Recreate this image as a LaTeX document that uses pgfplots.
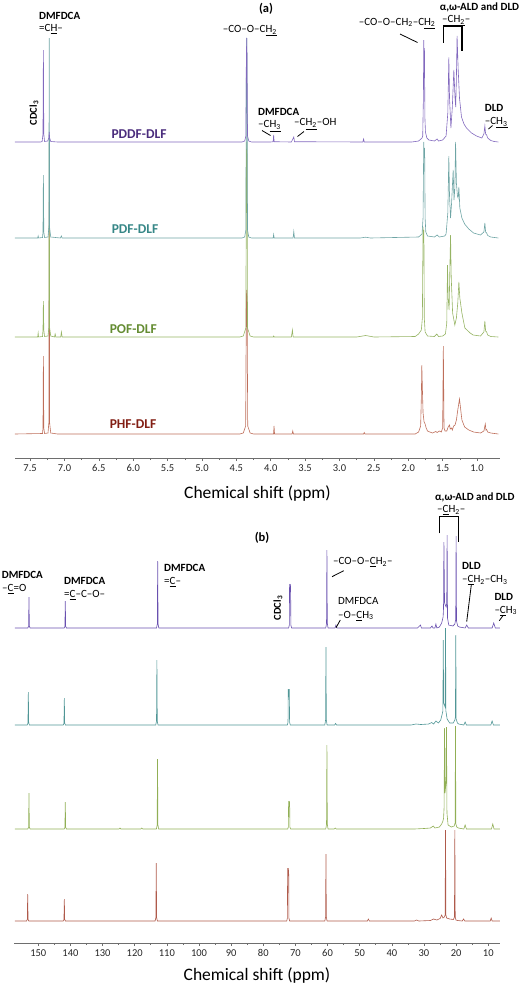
\documentclass[border=0pt]{standalone}
\usepackage{fontspec}
\setmainfont{Carlito}
\usepackage{pgfplots}
\pgfplotsset{compat=1.18}
\definecolor{axisgray}{RGB}{110,110,110}
\definecolor{pddfL}{RGB}{75,45,125}
\definecolor{pdfL}{RGB}{55,135,135}
\definecolor{pofL}{RGB}{100,140,50}
\definecolor{phfL}{RGB}{130,30,20}
\definecolor{pddfA}{RGB}{130,105,190}
\definecolor{pdfA}{RGB}{110,165,165}
\definecolor{pofA}{RGB}{150,180,100}
\definecolor{phfA}{RGB}{190,110,90}
\definecolor{pddfB}{RGB}{105,80,175}
\definecolor{pdfB}{RGB}{80,150,150}
\definecolor{pofB}{RGB}{145,175,85}
\definecolor{phfB}{RGB}{175,90,75}
\newcommand{\fs}[1]{\fontsize{#1}{#1}\selectfont}
\pgfplotsset{
  nmr/.style={
    scale only axis, clip=false,
    axis x line=bottom, axis y line=none, ytick=\empty,
    x dir=reverse,
    x axis line style={-, draw=axisgray, line width=0.8pt},
    minor x tick num=1,
    tick align=outside, major tick length=3pt, minor tick length=2pt,
    every tick/.style={axisgray, line width=0.6pt},
    xticklabel style={font=\fs{10.5}, text=black!85, /pgf/number format/assume math mode=true},
    xlabel style={font=\fs{17.5}},
    xlabel={Chemical shift (ppm)},
  },
}
\begin{document}
\begin{tikzpicture}
\useasboundingbox (0pt,0pt) rectangle (524pt,-986pt);
% ---------------- panel (a) ----------------
\begin{axis}[nmr,
  at={(15pt,-458pt)}, anchor=south west,
  width=485pt, height=438pt,
  xmin=0.666, xmax=7.72, ymin=0, ymax=438,
  xtick={1.0,1.5,2.0,2.5,3.0,3.5,4.0,4.5,5.0,5.5,6.0,6.5,7.0,7.5},
  xticklabel style={/pgf/number format/.cd, fixed, fixed zerofill, precision=1},
  xlabel style={yshift=-7pt},
]
% PHF-DLF
\addplot[phfA, line width=0.6pt] coordinates {
(7.72,24) (7.32,24.5) (7.313,30) (7.307,102) (7.301,30) (7.29,24.5) (7.24,25) (7.228,35) (7.222,256) (7.216,35) (7.20,25) (7.10,24)
(4.45,24) (4.40,25) (4.365,32) (4.355,160) (4.350,168) (4.345,160) (4.335,32) (4.30,25) (4.25,24)
(3.96,24) (3.952,32) (3.945,24) (3.69,24) (3.68,27) (3.67,24) (2.65,24) (2.64,25.5) (2.63,24)
(1.90,24) (1.85,26) (1.82,32) (1.81,60) (1.803,93) (1.795,70) (1.785,45) (1.77,36) (1.755,34) (1.74,30) (1.72,27) (1.65,25)
(1.60,26.5) (1.58,25.5) (1.55,27) (1.52,26) (1.50,30) (1.49,112) (1.48,30) (1.465,27) (1.44,27) (1.42,31) (1.40,33) (1.39,29)
(1.37,30) (1.36,28) (1.34,32) (1.32,33) (1.30,38) (1.28,48) (1.255,59) (1.24,50) (1.22,38) (1.18,31) (1.12,28) (1.05,26)
(0.95,25) (0.90,27) (0.88,34) (0.87,28) (0.86,28.5) (0.845,26) (0.80,25) (0.69,24)
};
% POF-DLF
\addplot[pofA, line width=0.6pt] coordinates {
(7.72,121) (7.39,121) (7.383,125) (7.377,121) (7.32,121.5) (7.313,128) (7.307,157) (7.301,128) (7.29,121.5) (7.24,122)
(7.228,130) (7.222,315) (7.216,130) (7.20,122) (7.145,121) (7.136,124) (7.127,121) (7.055,121) (7.045,126) (7.035,121)
(4.45,121) (4.40,122) (4.362,130) (4.355,300) (4.350,316) (4.345,300) (4.338,130) (4.30,122) (4.25,121)
(3.965,121) (3.958,122) (3.95,121) (3.70,121) (3.685,128) (3.675,121) (2.75,121) (2.62,122.5) (2.50,121)
(1.90,121.5) (1.85,124) (1.81,128) (1.795,140) (1.785,231) (1.779,215) (1.773,228) (1.767,140) (1.755,126) (1.72,122)
(1.62,121.5) (1.585,124) (1.56,121.5) (1.50,122) (1.46,124) (1.44,135) (1.429,193) (1.42,160) (1.406,148) (1.395,190)
(1.385,223) (1.375,180) (1.355,145) (1.323,133) (1.30,140) (1.28,155) (1.264,176) (1.25,160) (1.22,145) (1.177,130)
(1.10,125) (1.057,123) (0.95,122) (0.90,126) (0.886,137) (0.875,127) (0.86,126) (0.845,123) (0.80,121.5) (0.69,121)
};
% PDF-DLF
\addplot[pdfA, line width=0.6pt] coordinates {
(7.72,220) (7.39,220) (7.383,222) (7.377,220) (7.32,220.5) (7.313,226) (7.307,283) (7.301,226) (7.29,220.5) (7.24,221)
(7.228,230) (7.222,420) (7.216,230) (7.20,221) (7.06,220) (7.045,222) (7.035,220)
(4.42,220) (4.38,221) (4.362,228) (4.355,400) (4.350,420) (4.345,400) (4.338,228) (4.32,221) (4.28,220)
(3.965,220) (3.958,223.5) (3.951,220) (3.675,220) (3.665,226.5) (3.655,220) (2.70,220) (2.62,220.8) (2.55,220)
(1.85,221) (1.80,224) (1.785,240) (1.775,316) (1.768,300) (1.762,310) (1.755,240) (1.745,226) (1.72,222) (1.62,221)
(1.58,223) (1.55,221) (1.47,222) (1.45,224) (1.425,245) (1.41,302) (1.40,262) (1.385,240) (1.37,255) (1.347,288)
(1.335,258) (1.322,270) (1.312,316) (1.30,275) (1.285,262) (1.275,260) (1.264,271) (1.25,250) (1.22,240) (1.18,234)
(1.12,229) (1.05,225) (0.95,223) (0.90,226) (0.886,235) (0.875,226) (0.86,225) (0.845,222.5) (0.80,221) (0.69,220)
};
% PDDF-DLF
\addplot[pddfA, line width=0.6pt] coordinates {
(7.72,316) (7.35,316) (7.325,316.5) (7.313,324) (7.307,408) (7.301,324) (7.29,316.5) (7.245,317) (7.228,320) (7.222,326)
(7.216,320) (7.20,316.5) (7.10,316)
(4.42,316) (4.38,317) (4.362,322) (4.355,400) (4.350,420) (4.345,400) (4.338,322) (4.32,317) (4.28,316)
(4.00,316) (3.965,316.3) (3.958,323) (3.951,316.3) (3.70,316) (3.665,321) (3.655,316.3) (2.66,316) (2.65,319) (2.64,316)
(1.95,316) (1.85,317) (1.80,320) (1.79,322) (1.78,360) (1.775,418) (1.770,380) (1.765,410) (1.758,340) (1.75,326)
(1.73,320) (1.70,318) (1.62,317) (1.58,319) (1.56,317) (1.50,318) (1.45,322) (1.425,345) (1.41,400.7) (1.40,360)
(1.38,330) (1.36,350) (1.337,388) (1.32,360) (1.31,351) (1.30,380) (1.29,422) (1.275,390) (1.255,360) (1.226,341)
(1.19,334) (1.153,330) (1.08,325) (1.007,322) (0.93,320) (0.90,324) (0.886,332) (0.875,324) (0.86,323) (0.845,320)
(0.80,317.5) (0.75,316.5) (0.69,316)
};
\end{axis}
% ---------------- panel (b) ----------------
\begin{axis}[nmr,
  at={(14pt,-943pt)}, anchor=south west,
  width=486pt, height=423pt,
  xmin=6.35, xmax=157.56, ymin=0, ymax=423,
  xtick={10,20,30,40,50,60,70,80,90,100,110,120,130,140,150},
  xticklabel style={/pgf/number format/.cd, fixed, precision=0},
  xlabel style={yshift=-4pt},
]
% PHF-DLF
\addplot[phfB, line width=0.6pt] coordinates {
(157.3,22) (153.65,22) (153.42,23.6) (153.3,49) (153.18,23.6) (152.95,22)
(142.25,22) (142.02,23.3) (141.9,44) (141.78,23.3) (141.55,22)
(113.65,22) (113.42,25.5) (113.3,80) (113.18,25.5) (112.95,22)
(72.7,22) (72.5,25) (72.42,75) (72.34,67) (72.26,73) (72.18,67) (72.1,75) (72.02,25) (71.8,22)
(60.85,22) (60.62,26) (60.5,89) (60.38,26) (60.15,22)
(47.6,22) (47.3,24) (47.0,22) (33.0,22) (32.3,23) (31.6,22) (28.0,22.5) (27.0,24) (26.0,23) (25.0,24.5) (24.5,28) (24.1,25)
(23.65,26) (23.42,28) (23.3,113) (23.18,28) (22.95,25) (22.0,24) (20.85,23.5) (20.52,26) (20.4,113) (20.28,26) (20.05,23)
(19.5,22.5) (18.1,22) (17.7,24) (17.3,22) (9.4,22) (9.1,25) (8.8,22) (6.4,22)
};
% POF-DLF
\addplot[pofB, line width=0.6pt] coordinates {
(157.3,114) (153.25,114) (153.02,116) (152.9,150) (152.78,116) (152.55,114)
(141.95,114) (141.72,115.6) (141.6,141) (141.48,115.6) (141.25,114)
(124.9,114) (124.6,115) (124.3,114) (118.1,114) (117.8,115) (117.5,114)
(113.25,114) (113.02,118) (112.9,184) (112.78,118) (112.55,114)
(72.4,114) (72.2,116) (72.12,142) (72.04,136) (71.96,141) (71.88,136) (71.8,142) (71.72,116) (71.5,114)
(60.55,114) (60.32,119) (60.2,198) (60.08,119) (59.85,114) (57.9,114) (57.6,115) (57.3,114)
(33.0,114) (30.0,114.5) (28.0,115) (27.1,117) (26.6,115) (25.2,116) (24.5,119) (24.1,122) (23.9,125) (23.75,135) (23.6,215)
(23.45,150) (23.15,160) (23.0,216) (22.85,130) (22.5,118) (21.5,116) (20.6,117) (20.32,120) (20.2,217) (20.08,119) (19.8,116)
(19.3,115) (17.6,114) (17.2,118) (16.8,114) (9.0,114) (8.6,119) (8.2,114) (6.4,114)
};
% PDF-DLF
\addplot[pdfB, line width=0.6pt] coordinates {
(157.3,218) (153.45,218) (153.22,220) (153.1,251) (152.98,220) (152.75,218)
(142.25,218) (142.02,219.6) (141.9,245) (141.78,219.6) (141.55,218)
(113.45,218) (113.22,222) (113.1,283) (112.98,222) (112.75,218)
(72.5,218) (72.3,221) (72.22,254) (72.14,246) (72.06,252) (71.98,246) (71.9,254) (71.82,221) (71.6,218)
(60.85,218) (60.62,223) (60.5,296) (60.38,223) (60.15,218) (57.8,218) (57.5,219.5) (57.2,218)
(34.0,218) (32.5,219) (31.0,218.5) (28.5,219) (27.6,220.5) (27.0,219) (26.3,222) (25.5,220) (24.8,223) (24.4,228)
(24.12,232) (24.0,303) (23.88,240) (23.42,236) (23.3,315) (23.18,232) (22.8,224) (22.0,220) (20.9,220) (20.4,223) (20.22,226)
(20.1,308) (19.98,224) (19.6,220) (19.2,219) (17.6,218) (17.2,221) (16.8,218) (9.2,218) (8.8,222) (8.4,218) (6.4,218)
};
% PDDF-DLF
\addplot[pddfB, line width=0.6pt] coordinates {
(157.3,315) (153.25,315) (153.02,317) (152.9,346) (152.78,317) (152.55,315)
(141.95,315) (141.72,316.6) (141.6,342) (141.48,316.6) (141.25,315)
(113.2,315) (112.97,319) (112.85,382) (112.73,319) (112.5,315)
(72.1,315) (71.9,318) (71.82,359) (71.74,351) (71.66,357) (71.58,351) (71.5,359) (71.42,318) (71.2,315)
(60.55,315) (60.32,320) (60.2,393) (60.08,320) (59.85,315) (57.7,315) (57.4,318) (57.1,315)
(32.0,315) (31.1,318) (30.8,315) (28.0,315) (27.5,317) (27.2,315) (26.6,315) (26.3,319) (26.0,315) (25.2,316) (24.5,320)
(24.05,326) (23.92,335) (23.8,401) (23.6,340) (23.1,336) (22.92,340) (22.8,408) (22.68,325) (22.3,318) (21.0,317) (20.4,319)
(20.12,324) (20.0,407) (19.88,322) (19.5,317) (19.0,316) (17.2,315) (16.7,318) (16.2,315) (8.8,315) (8.3,320) (7.8,315) (6.4,315)
};
\end{axis}
% ---------------- annotations (a) ----------------
\begin{scope}[every node/.style={inner sep=0pt, anchor=west, font=\fs{11}}]
\node[anchor=center, font=\bfseries\fs{12.5}] at (266pt,-8.5pt) {(a)};
\node[font=\bfseries\fs{11}] at (39pt,-15.7pt) {DMFDCA};
\node at (39pt,-29pt) {=C\underline{H}--};
\node[anchor=center, rotate=90, font=\bfseries\fs{10.5}] at (34pt,-113pt) {CDCl\textsubscript{3}};
\node at (222.7pt,-30.7pt) {--CO--O--C\underline{H\textsubscript{2}}};
\node[font=\bfseries\fs{11}] at (258pt,-111.7pt) {DMFDCA};
\node at (258pt,-126pt) {--C\underline{H\textsubscript{3}}};
\draw[line width=0.8pt] (262pt,-130.5pt) -- (270.5pt,-135.5pt);
\node at (294pt,-124pt) {--C\underline{H\textsubscript{2}}--OH};
\draw[line width=0.8pt] (297.5pt,-136.5pt) -- (304pt,-131.5pt);
\node at (358.7pt,-23.5pt) {--CO--O--CH\textsubscript{2}--C\underline{H\textsubscript{2}}};
\draw[line width=0.8pt] (400pt,-34pt) -- (417.5pt,-42.5pt);
\node[font=\bfseries\fs{11}] at (439.7pt,-7.5pt) {α,ω-ALD and DLD};
\node at (442pt,-20.7pt) {--C\underline{H\textsubscript{2}}--};
\draw[line width=1.2pt] (443.7pt,-42.7pt) -- (443.7pt,-26pt) -- (462pt,-26pt) -- (462pt,-50.7pt);
\node[font=\bfseries\fs{11}] at (484.7pt,-107.7pt) {DLD};
\node at (484.7pt,-122.7pt) {--C\underline{H\textsubscript{3}}};
\draw[line width=0.8pt] (488.5pt,-129pt) -- (492.5pt,-125.5pt);
\node[anchor=center, font=\bfseries\fs{13.5}, text=pddfL] at (139pt,-134.3pt) {PDDF-DLF};
\node[anchor=center, font=\bfseries\fs{13.5}, text=pdfL] at (135pt,-229.3pt) {PDF-DLF};
\node[anchor=center, font=\bfseries\fs{13.5}, text=pofL] at (133.3pt,-329pt) {POF-DLF};
\node[anchor=center, font=\bfseries\fs{13.5}, text=phfL] at (133pt,-424pt) {PHF-DLF};
% ---------------- annotations (b) ----------------
\node[anchor=center, font=\bfseries\fs{12.5}] at (262pt,-537.7pt) {(b)};
\node[font=\bfseries\fs{11}] at (1.7pt,-575pt) {DMFDCA};
\node at (2pt,-589pt) {--\underline{C}=O};
\node[font=\bfseries\fs{11}] at (64pt,-581pt) {DMFDCA};
\node at (64pt,-595pt) {=\underline{C}--C--O--};
\node[font=\bfseries\fs{11}] at (164pt,-568.3pt) {DMFDCA};
\node at (164pt,-581.7pt) {=\underline{C}--};
\node[anchor=center, rotate=90, font=\bfseries\fs{10.5}] at (278pt,-608pt) {CDCl\textsubscript{3}};
\node at (333pt,-562.3pt) {--CO--O--\underline{C}H\textsubscript{2}--};
\draw[line width=0.8pt] (332pt,-576.7pt) -- (343.7pt,-570.7pt);
\node at (338pt,-601pt) {DMFDCA};
\node at (338pt,-615.7pt) {--O--\underline{C}H\textsubscript{3}};
\draw[line width=0.8pt] (336pt,-627.7pt) -- (340.3pt,-620pt);
\node[font=\bfseries\fs{11}] at (435pt,-497.3pt) {α,ω-ALD and DLD};
\node at (437pt,-510pt) {--\underline{C}H\textsubscript{2}--};
\draw[line width=1.2pt] (439.7pt,-533.3pt) -- (439.7pt,-516.7pt) -- (458.7pt,-516.7pt) -- (458.7pt,-541.7pt);
\node[font=\bfseries\fs{11}] at (462pt,-565.7pt) {DLD};
\node at (462pt,-580pt) {--\underline{C}H\textsubscript{2}--CH\textsubscript{3}};
\draw[line width=0.8pt] (471.3pt,-585pt) -- (466.7pt,-621.7pt);
\node[font=\bfseries\fs{11}] at (494.3pt,-596.7pt) {DLD};
\node at (494.3pt,-610.7pt) {--\underline{C}H\textsubscript{3}};
\draw[line width=0.8pt] (499.3pt,-620.7pt) -- (502.7pt,-616pt);
\end{scope}
\end{tikzpicture}
\end{document}
